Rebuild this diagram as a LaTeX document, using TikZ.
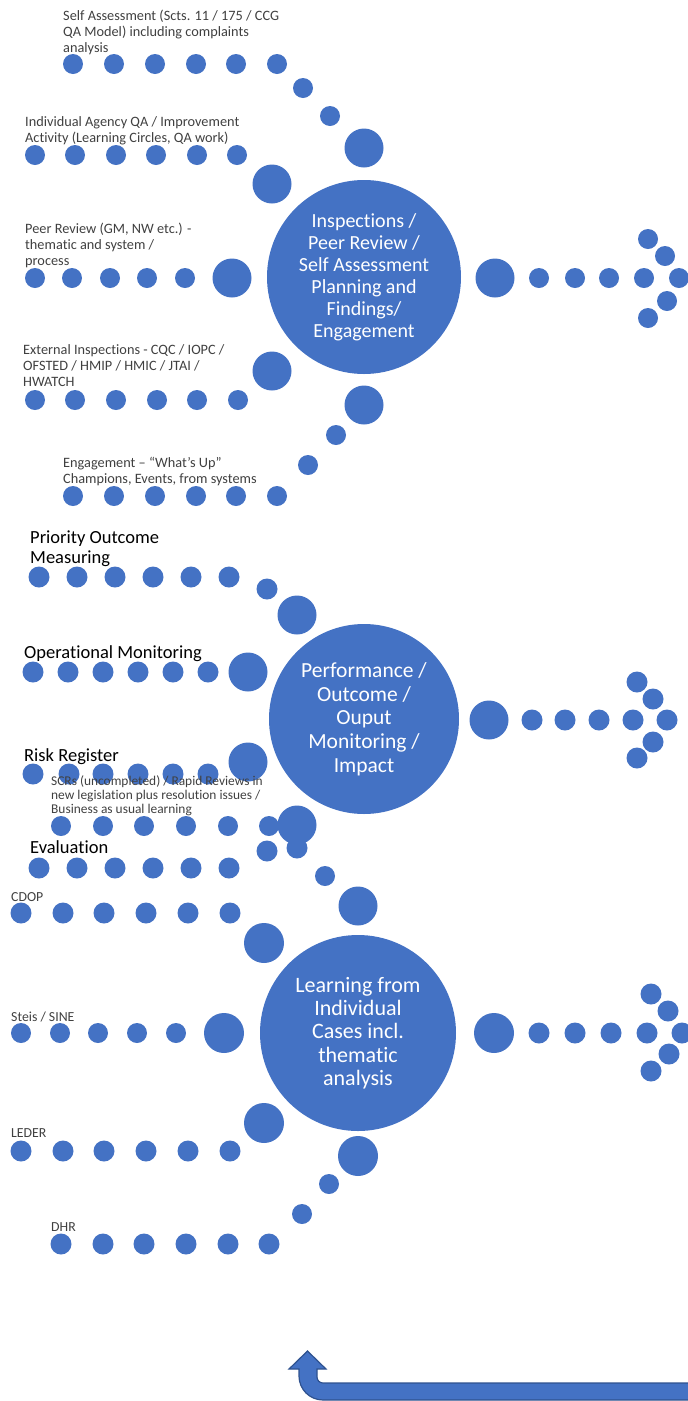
\documentclass[tikz,border=0pt]{standalone}
\usepackage{fontspec}
\setmainfont[Ligatures={NoCommon}]{Carlito}
\definecolor{ablue}{HTML}{4472C4}
\definecolor{ablueline}{HTML}{2F528F}
\definecolor{labgray}{HTML}{404040}
\begin{document}
\begin{tikzpicture}[x=1pt,y=-1pt,
  hub/.style={circle,fill=ablue,text=white,align=center,inner sep=0pt},
  smalllab/.style={anchor=base west,inner sep=0pt,align=left,text=labgray,font=\fontsize{14.3}{15.8}\selectfont},
  tinylab/.style={anchor=base west,inner sep=0pt,align=left,text=labgray,font=\fontsize{13.8}{14}\selectfont},
  scrlab/.style={anchor=base west,inner sep=0pt,align=left,text=labgray,font=\fontsize{13.4}{14}\selectfont},
  biglab/.style={anchor=base west,inner sep=0pt,align=left,text=black,font=\fontsize{18.5}{20}\selectfont}]
\useasboundingbox (0,0) rectangle (688,1401);
\clip (0,0) rectangle (688,1401);

% ---------- dots ----------
\foreach \x/\y/\r in {
 73/64/10,114/64/10,155/64/10,196/64/10,236/64/10,277/64/10,303/88/10,330/116/10,364/148/19.5,
 35/155/10,75/155/10,116/155/10,156/155/10,197/155/10,237/155/10,272/184/19.5,
 35/278/10,72/278/10,110/278/10,147/278/10,185/278/10,232/278/19.5,
 35/400/10,75/400/10,116/400/10,157/400/10,197/400/10,238/400/10,272/371/19.5,
 73/496/10,114/496/10,155/496/10,196/496/10,236/496/10,277/496/10,308/465/10,336/435/10,364/405/19.5,
 495/278/19.5,539/278/10,575/278/10,609/278/10,644/278/10,679/278/10,648/239/10,665/256/10,667/301/10,648/318/10,
 39/577/10.5,77/577/10.5,115/577/10.5,153/577/10.5,191/577/10.5,229/577/10.5,267/589/10.5,297/615/19.5,
 33/672/10.5,68/672/10.5,103/672/10.5,138/672/10.5,173/672/10.5,208/672/10.5,248/672/19.5,
 33/774/10.5,69/774/10.5,103/774/10.5,138/774/10.5,173/774/10.5,208/774/10.5,248/762/19.5,
 61/826/10,103/826/10,144/826/10,186/826/10,228/826/10,269/826/10,297/825/19.5,
 39/868/10.5,77/868/10.5,115/868/10.5,153/868/10.5,191/868/10.5,229/868/10.5,267/851/10.5,297/848/10.5,325/876/10,358/906/19.5,
 489/720/19.5,532/720/10.5,565/720/10.5,599/720/10.5,633/720/10.5,667/720/10.5,637/682/10.5,653/699/10.5,653/742/10.5,637/758/10.5,
 21/913/10.5,63/913/10.5,104/913/10.5,146/913/10.5,188/913/10.5,230/913/10.5,264/943/20,
 21/1033/10,60/1033/10,98/1033/10,137/1033/10,176/1033/10,224/1033/20,
 21/1151/10.5,63/1151/10.5,104/1151/10.5,146/1151/10.5,188/1151/10.5,230/1151/10.5,264/1123/20,
 61/1244/10.5,103/1244/10.5,144/1244/10.5,186/1244/10.5,228/1244/10.5,269/1244/10.5,302/1214/10,329/1184/10,358/1156/20,
 494/1033/20,539/1033/10.5,575/1033/10.5,611/1033/10.5,647/1033/10.5,682/1033/10.5,651/994/10.5,668/1011/10.5,669/1054/10.5,651/1071/10.5}
 \fill[ablue] (\x,\y) circle (\r pt);

% ---------- hubs ----------
\node[hub,minimum size=194pt,font=\fontsize{20}{22}\selectfont] (hubA) at (364,277)
  {Inspections /\\Peer Review /\\Self Assessment\\Planning and\\Findings/\\Engagement};
\node[hub,minimum size=190pt,font=\fontsize{21.5}{23.7}\selectfont] (hubB) at (364,719)
  {Performance /\\Outcome /\\Ouput\\Monitoring /\\Impact};
\node[hub,minimum size=196pt,font=\fontsize{22}{23.3}\selectfont] (hubC) at (358,1033)
  {Learning from\\Individual\\Cases incl.\\thematic\\analysis};

% ---------- labels (anchored at the baseline of the last line) ----------
\node[smalllab] (l1) at (63,52) {Self Assessment (Scts. 11 / 175 / CCG\\QA Model) including complaints\\analysis};
\node[smalllab] (l2) at (25,142) {Individual Agency QA / Improvement\\Activity (Learning Circles, QA work)};
\node[smalllab] (l3) at (25,265) {Peer Review (GM, NW etc.) -\\thematic and system /\\process};
\node[smalllab] (l4) at (23,386.5) {External Inspections - CQC / IOPC /\\OFSTED / HMIP / HMIC / JTAI /\\HWATCH};
\node[smalllab] (l5) at (63,483) {Engagement – “What’s Up”\\Champions, Events, from systems};
\node[biglab] (l6) at (30,563) {Priority Outcome\\Measuring};
\node[biglab] (l7) at (24,658) {Operational Monitoring};
\node[biglab] (l8) at (24,761) {Risk Register};
\node[scrlab] (l9) at (51,813) {SCRs (uncompleted) / Rapid Reviews in\\new legislation plus resolution issues /\\Business as usual learning};
\node[biglab] (l10) at (30,853) {Evaluation};
\node[tinylab] (l11) at (11,901) {CDOP};
\node[tinylab] (l12) at (11,1021) {Steis / SINE};
\node[tinylab] (l13) at (11,1137) {LEDER};
\node[tinylab] (l14) at (51,1231) {DHR};

% ---------- bottom bent arrow ----------
\filldraw[fill=ablue,draw=ablueline,line width=1.2pt,line join=miter]
 (700,1383) -- (323,1383) .. controls (319.7,1383) and (317,1380.3) .. (317,1377)
 -- (317,1369) -- (326,1369) -- (307.5,1351) -- (289,1369) -- (299,1369) -- (299,1376)
 .. controls (299,1389.3) and (309.7,1400) .. (323,1400) -- (700,1400) -- cycle;
\end{tikzpicture}
\end{document}
